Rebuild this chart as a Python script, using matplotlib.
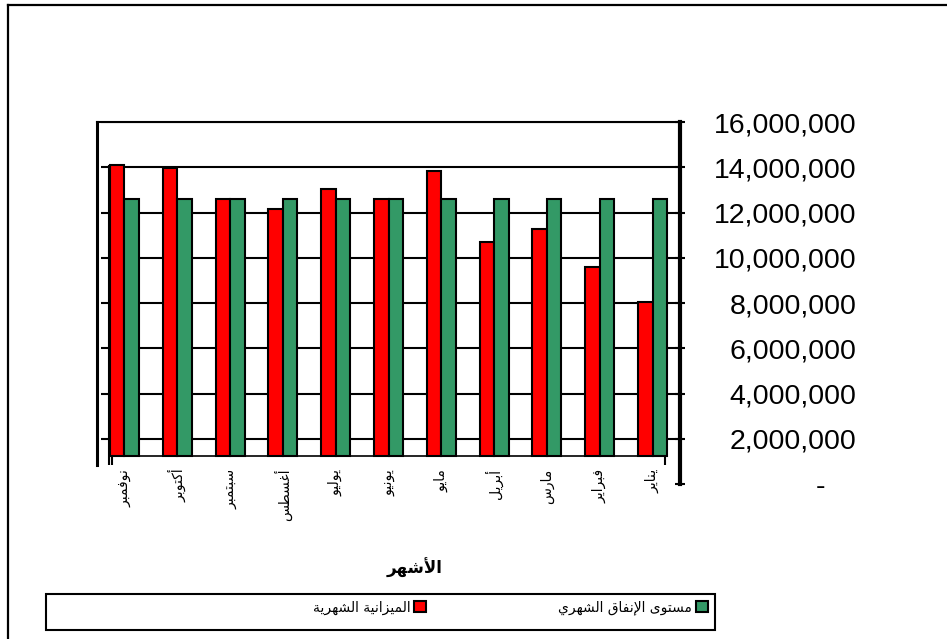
import matplotlib
matplotlib.use('Agg')
import matplotlib.pyplot as plt
from matplotlib.patches import Patch, Rectangle
from matplotlib.lines import Line2D
from matplotlib.ticker import FuncFormatter
import numpy as np

''' data read off the chart '''
months = ['نوفمبر', 'أكتوبر', 'سبتمبر', 'أغسطس', 'يوليو', 'يونيو',
          'مايو', 'أبريل', 'مارس', 'فبراير', 'يناير']
budget = [14100000, 13950000, 12600000, 12150000, 13050000, 12600000,
          13850000, 10700000, 11250000, 9600000, 8050000]
spending = [12600000, 12600000, 12600000, 12600000, 12600000, 12600000,
            12600000, 12600000, 12600000, 12600000, 12600000]
yticks = [0, 2000000, 4000000, 6000000, 8000000, 10000000, 12000000, 14000000, 16000000]
name_budget = 'الميزانية الشهرية'
name_spending = 'مستوى الإنفاق الشهري'
xtitle = 'الأشهر'
cross = 1250000  # where the category axis crosses the value axis

# matplotlib has no arabic shaping, so pick presentation forms by hand
# letter: (isolated, final, initial, medial)
FORMS = {
    'ا': (0xFE8D, 0xFE8E, None, None), 'أ': (0xFE83, 0xFE84, None, None),
    'إ': (0xFE87, 0xFE88, None, None), 'ب': (0xFE8F, 0xFE90, 0xFE91, 0xFE92),
    'ة': (0xFE93, 0xFE94, None, None), 'ت': (0xFE95, 0xFE96, 0xFE97, 0xFE98),
    'ر': (0xFEAD, 0xFEAE, None, None), 'ز': (0xFEAF, 0xFEB0, None, None),
    'س': (0xFEB1, 0xFEB2, 0xFEB3, 0xFEB4), 'ش': (0xFEB5, 0xFEB6, 0xFEB7, 0xFEB8),
    'ط': (0xFEC1, 0xFEC2, 0xFEC3, 0xFEC4), 'غ': (0xFECD, 0xFECE, 0xFECF, 0xFED0),
    'ف': (0xFED1, 0xFED2, 0xFED3, 0xFED4), 'ق': (0xFED5, 0xFED6, 0xFED7, 0xFED8),
    'ك': (0xFED9, 0xFEDA, 0xFEDB, 0xFEDC), 'ل': (0xFEDD, 0xFEDE, 0xFEDF, 0xFEE0),
    'م': (0xFEE1, 0xFEE2, 0xFEE3, 0xFEE4), 'ن': (0xFEE5, 0xFEE6, 0xFEE7, 0xFEE8),
    'ه': (0xFEE9, 0xFEEA, 0xFEEB, 0xFEEC), 'و': (0xFEED, 0xFEEE, None, None),
    'ى': (0xFEEF, 0xFEF0, None, None), 'ي': (0xFEF1, 0xFEF2, 0xFEF3, 0xFEF4),
}
LAMALEF = {'ا': (0xFEFB, 0xFEFC), 'أ': (0xFEF7, 0xFEF8), 'إ': (0xFEF9, 0xFEFA)}


def joins_next(c):
    return c in FORMS and FORMS[c][2] is not None


def shape(s):
    out = []
    i = 0
    while i < len(s):
        c = s[i]
        if c not in FORMS:
            out.append(c)
            i += 1
            continue
        jp = i > 0 and joins_next(s[i - 1])
        if c == 'ل' and i + 1 < len(s) and s[i + 1] in LAMALEF:
            iso, fin = LAMALEF[s[i + 1]]
            out.append(chr(fin if jp else iso))
            i += 2
            continue
        jn = joins_next(c) and i + 1 < len(s) and s[i + 1] in FORMS
        iso, fin, ini, med = FORMS[c]
        if jp and jn:
            out.append(chr(med))
        elif jp:
            out.append(chr(fin))
        elif jn:
            out.append(chr(ini))
        else:
            out.append(chr(iso))
        i += 1
    return ''.join(reversed(out))


plt.rcParams['font.family'] = ['DejaVu Sans']

W, H = 947, 639
fig = plt.figure(figsize=(W / 100, H / 100), dpi=100)
# plot area in pixels: x 97..680, y 122..484
ax = fig.add_axes([97 / W, 1 - 484 / H, 583 / W, 362 / H])

# spine position first, it resets the ticks
ax.spines['bottom'].set_position(('data', cross))

x = np.arange(len(months))
w = 0.275
ax.bar(x - w / 2, np.array(budget) - cross, w, bottom=cross, color='#FF0000',
       edgecolor='black', linewidth=1.5, zorder=3)
ax.bar(x + w / 2, np.array(spending) - cross, w, bottom=cross, color='#339966',
       edgecolor='black', linewidth=1.5, zorder=3)

ax.set_xlim(-0.52, 10.52)
ax.set_ylim(0, 16000000)

# horizontal grid lines (none at zero)
ax.hlines(yticks[1:], 0.007, 1, transform=ax.get_yaxis_transform(), color='black',
          linewidth=1.5, zorder=1)

# value axis on the right
ax.yaxis.tick_right()
ax.set_yticks(yticks)
ax.yaxis.set_major_formatter(FuncFormatter(lambda v, p: '-    ' if v == 0 else f'{v:,.0f}'))
ax.tick_params(axis='y', direction='inout', length=6.5, width=1.5, pad=124,
               labelsize=20.5, colors='black')
for lab in ax.get_yticklabels():
    lab.set_horizontalalignment('right')
    lab.set_fontfamily('Liberation Sans')

# category axis
ax.set_xticks(x)
ax.set_xticklabels([shape(m) for m in months], fontsize=10)
ax.tick_params(axis='x', length=0, pad=9.4, labelrotation=90)
ax.spines['bottom'].set_bounds(-0.237, 10.24)
ax.spines['bottom'].set_linewidth(1.2)
ax.vlines([-0.237, 10.24], 840000, cross, color='black', linewidth=1.5, clip_on=False)

ax.spines['right'].set_linewidth(3)
ax.spines['left'].set_linewidth(2.2)
ax.spines['left'].set_bounds(840000, 16000000)
ax.spines['top'].set_linewidth(1.5)
ax.vlines([0.0206], 840000, budget[0], transform=ax.get_yaxis_transform(),
          color='black', linewidth=1.5, clip_on=False)

ax.set_xlabel(shape(xtitle), fontsize=12, fontweight='bold')
ax.xaxis.set_label_coords((415 - 97) / 583, (484 - 558) / 362)

# legend (right to left)
handles = [Patch(facecolor='#FF0000', edgecolor='black', linewidth=1.5),
           Patch(facecolor='#339966', edgecolor='black', linewidth=1.5)]
fig.legend(handles, [shape(name_budget), shape(name_spending)], ncol=2,
           markerfirst=False, frameon=False, loc='center right',
           bbox_to_anchor=(708 / W, 1 - 608 / H), bbox_transform=fig.transFigure,
           fontsize=10, handlelength=0.85, handleheight=0.85, handletextpad=0.3,
           columnspacing=9.5, borderpad=0, borderaxespad=0)
fig.add_artist(Rectangle((46 / W, 1 - 630 / H), 669 / W, 36 / H, transform=fig.transFigure,
                         fill=False, edgecolor='black', linewidth=1.5))

# outer chart border (top and left only)
fig.add_artist(Line2D([8 / W, 8 / W], [0, 1 - 5 / H], transform=fig.transFigure,
                      color='black', linewidth=1.6))
fig.add_artist(Line2D([8 / W, 1], [1 - 5 / H, 1 - 5 / H], transform=fig.transFigure,
                      color='black', linewidth=1.6))

plt.savefig('out.png', dpi=100)
